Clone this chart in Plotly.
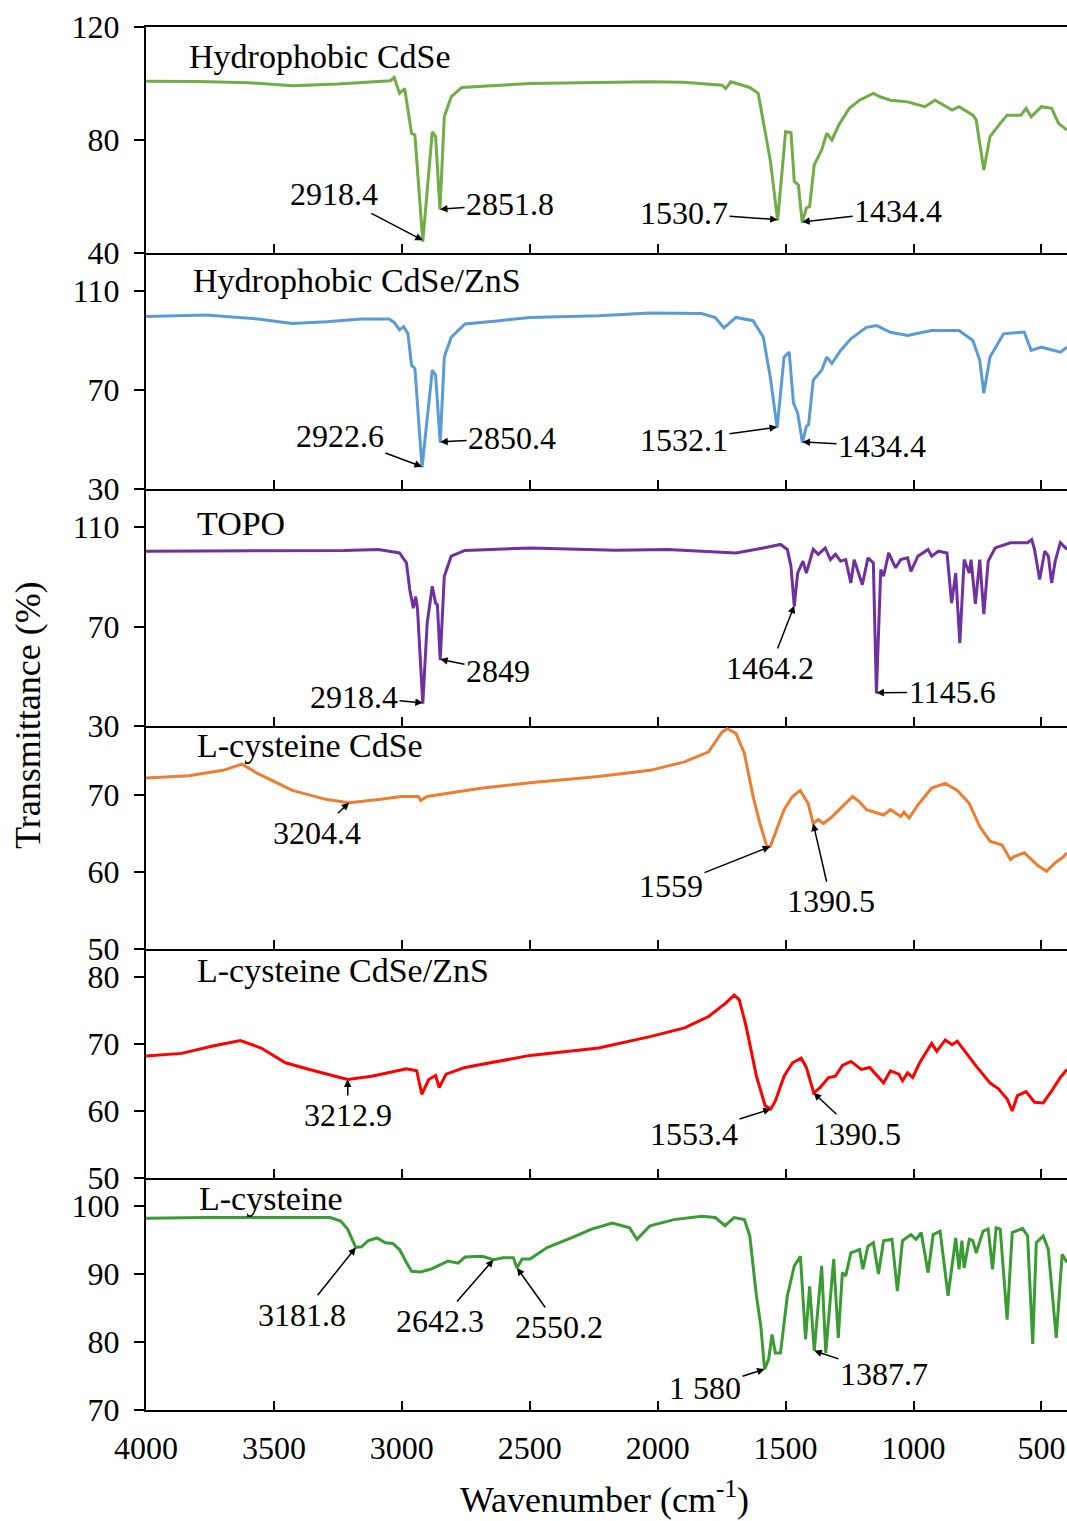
import plotly.graph_objects as go

# ---------------- data ----------------
wn_hcdse = [4000, 3800, 3600, 3428, 3250, 3100, 3045, 3030, 3009, 2989,
            2962, 2949, 2918, 2881, 2868, 2851, 2834, 2807, 2766, 2650,
            2499, 2300, 2030, 1900, 1748, 1734, 1714, 1640, 1607, 1560,
            1531, 1500, 1479, 1466, 1450, 1435, 1419, 1406, 1388, 1359,
            1339, 1319, 1292, 1251, 1211, 1157, 1131, 1090, 1023, 956,
            916, 849, 822, 768, 755, 725, 701, 661, 634, 580,
            560, 540, 500, 460, 433, 400]
t_hcdse = [100.8, 100.7, 100.3, 99.2, 99.8, 100.8, 101.0, 102.1, 96.5, 98.2,
           82.4, 81.8, 44.0, 82.9, 81.2, 55.3, 88.2, 95.3, 98.6, 99.2,
           100.0, 100.3, 100.6, 100.4, 99.4, 98.2, 100.6, 98.6, 96.5, 72.9,
           51.5, 82.9, 82.6, 65.3, 64.1, 50.8, 55.9, 56.5, 71.2, 76.5,
           82.4, 80.0, 85.3, 91.2, 94.1, 96.5, 95.3, 94.1, 93.5, 91.8,
           94.1, 90.6, 91.8, 88.8, 87.1, 69.4, 81.2, 85.9, 88.8, 88.8,
           91.2, 88.2, 91.8, 91.2, 85.9, 83.5]

wn_hcdsezns = [4000, 3766, 3563, 3428, 3293, 3158, 3050, 3030, 3009, 2993,
               2976, 2962, 2949, 2921, 2881, 2868, 2850, 2834, 2807, 2753,
               2618, 2499, 2231, 2030, 1828, 1775, 1741, 1694, 1627, 1587,
               1560, 1533, 1506, 1486, 1469, 1453, 1434, 1419, 1410, 1392,
               1359, 1339, 1319, 1285, 1245, 1184, 1144, 1090, 1023, 970,
               929, 822, 768, 741, 725, 701, 648, 580, 567, 540,
               500, 426, 400]
t_hcdsezns = [99.7, 100.3, 98.7, 96.9, 97.6, 98.7, 98.7, 97.3, 94.3, 95.6,
              92.7, 80.0, 78.7, 38.7, 78.0, 76.0, 48.7, 83.3, 91.3, 96.7,
              98.0, 99.3, 100.0, 101.1, 100.9, 99.3, 95.1, 99.3, 98.0, 91.3,
              75.3, 54.7, 83.3, 85.3, 64.7, 60.7, 48.7, 55.3, 56.0, 74.0,
              78.0, 83.3, 80.7, 86.0, 90.7, 95.3, 96.0, 93.3, 92.0, 93.3,
              94.0, 94.0, 90.0, 82.0, 68.7, 83.3, 92.7, 93.3, 93.3, 86.0,
              87.3, 85.3, 87.3]

wn_topo = [4000, 3631, 3226, 3091, 3009, 2982, 2969, 2955, 2946, 2939,
           2918, 2901, 2881, 2868, 2861, 2850, 2834, 2807, 2753, 2499,
           2164, 1962, 1694, 1587, 1520, 1493, 1479, 1466, 1453, 1432,
           1419, 1392, 1372, 1345, 1325, 1305, 1285, 1265, 1245, 1232,
           1200, 1178, 1157, 1145, 1128, 1117, 1097, 1070, 1050, 1023,
           1010, 983, 943, 929, 902, 869, 851, 835, 819, 802,
           782, 775, 758, 741, 725, 708, 681, 621, 554, 538,
           527, 507, 487, 473, 460, 446, 426, 400]
t_topo = [100.3, 100.3, 100.6, 101.0, 99.6, 95.6, 84.8, 77.4, 82.1, 77.4,
          39.0, 71.3, 86.2, 79.4, 78.8, 56.5, 90.2, 98.3, 100.6, 101.6,
          100.7, 101.0, 99.6, 101.6, 103.0, 101.0, 94.2, 78.1, 91.5, 96.3,
          91.5, 101.0, 99.0, 101.6, 96.9, 99.0, 96.3, 96.9, 87.5, 96.9,
          86.8, 97.6, 95.6, 43.1, 92.9, 90.2, 99.6, 93.6, 96.9, 97.6,
          92.2, 98.3, 101.0, 98.3, 100.3, 99.6, 79.4, 91.5, 63.3, 96.9,
          91.5, 96.9, 79.1, 96.9, 75.0, 96.3, 101.6, 103.7, 103.7, 105.0,
          101.0, 88.9, 100.3, 98.3, 87.5, 96.3, 103.7, 101.0]

wn_lcdse = [4000, 3834, 3699, 3624, 3564, 3428, 3293, 3206, 3091, 3003,
            2935, 2926, 2901, 2685, 2499, 2231, 2030, 1895, 1801, 1748,
            1728, 1694, 1661, 1627, 1600, 1573, 1560, 1540, 1506, 1473,
            1443, 1412, 1392, 1372, 1352, 1318, 1271, 1238, 1211, 1184,
            1117, 1090, 1050, 1037, 1017, 983, 929, 876, 829, 782,
            741, 701, 654, 621, 607, 567, 513, 480, 446, 413,
            400]
t_lcdse = [72.2, 72.5, 73.2, 74.0, 72.8, 70.6, 69.4, 69.0, 69.4, 69.8,
           69.8, 69.3, 69.8, 70.9, 71.6, 72.4, 73.2, 74.3, 75.6, 78.2,
           78.6, 78.0, 75.4, 69.8, 66.3, 63.3, 63.3, 65.0, 68.1, 69.8,
           70.6, 68.9, 66.3, 66.8, 66.3, 67.2, 68.7, 69.8, 69.1, 68.1,
           67.4, 68.1, 67.2, 67.8, 67.0, 68.7, 70.9, 71.5, 70.6, 68.9,
           65.9, 64.0, 63.5, 61.6, 62.0, 62.5, 60.8, 60.1, 61.2, 62.0,
           62.5]

wn_lcdsezns = [4000, 3861, 3739, 3631, 3550, 3455, 3361, 3293, 3212, 3118,
               2982, 2942, 2922, 2895, 2868, 2854, 2827, 2753, 2618, 2499,
               2231, 2030, 1895, 1801, 1734, 1701, 1681, 1654, 1614, 1580,
               1558, 1540, 1506, 1473, 1439, 1419, 1390, 1365, 1332, 1305,
               1278, 1245, 1204, 1171, 1117, 1090, 1057, 1043, 1023, 1003,
               976, 929, 909, 876, 849, 829, 795, 755, 701, 668,
               634, 614, 594, 560, 527, 493, 460, 426, 400]
t_lcdsezns = [68.2, 68.6, 69.7, 70.5, 69.4, 67.2, 66.2, 65.5, 64.7, 65.2,
              66.3, 66.0, 62.5, 64.7, 65.3, 63.5, 65.5, 66.5, 67.4, 68.3,
              69.4, 71.1, 72.4, 74.1, 76.1, 77.3, 76.6, 72.6, 65.2, 60.8,
              60.3, 61.5, 65.2, 67.2, 67.9, 66.5, 62.7, 63.5, 65.0, 65.2,
              66.8, 67.4, 66.2, 66.5, 64.2, 66.0, 65.5, 64.5, 65.7, 65.0,
              67.2, 70.1, 68.9, 70.6, 69.9, 70.4, 68.7, 66.7, 64.2, 63.3,
              61.8, 60.0, 62.3, 62.9, 61.3, 61.2, 63.0, 65.0, 66.2]

wn_lcys = [4000, 3766, 3496, 3280, 3239, 3212, 3192, 3180, 3158, 3131,
           3097, 3064, 3036, 3009, 2982, 2962, 2928, 2888, 2847, 2820,
           2780, 2753, 2685, 2642, 2604, 2564, 2550, 2530, 2499, 2432,
           2338, 2258, 2177, 2110, 2081, 2030, 1936, 1828, 1775, 1737,
           1701, 1661, 1640, 1614, 1597, 1582, 1566, 1553, 1540, 1520,
           1493, 1466, 1442, 1422, 1406, 1388, 1359, 1343, 1312, 1294,
           1278, 1265, 1245, 1211, 1198, 1178, 1157, 1137, 1117, 1084,
           1063, 1043, 1010, 990, 970, 943, 923, 896, 865, 835,
           822, 811, 802, 782, 768, 755, 728, 708, 691, 677,
           661, 634, 614, 574, 554, 534, 520, 493, 473, 442,
           419, 400]
t_lcys = [98.2, 98.3, 98.3, 98.3, 97.8, 96.6, 94.9, 93.9, 94.0, 94.9,
          95.3, 94.6, 94.5, 93.6, 91.7, 90.4, 90.3, 90.7, 91.4, 91.9,
          91.6, 92.5, 92.6, 92.1, 92.4, 92.4, 90.9, 92.2, 92.2, 93.9,
          95.3, 96.6, 97.5, 96.8, 95.1, 97.1, 98.0, 98.5, 98.3, 97.1,
          98.3, 98.0, 95.6, 86.8, 82.4, 76.0, 77.5, 81.1, 78.4, 78.4,
          86.8, 91.2, 92.6, 80.4, 88.2, 78.7, 91.2, 78.4, 92.2, 80.6,
          90.2, 89.7, 93.1, 93.6, 90.7, 94.1, 94.6, 90.0, 94.9, 95.1,
          87.5, 94.9, 95.8, 95.1, 96.1, 90.2, 95.8, 96.3, 86.8, 95.3,
          90.7, 94.9, 90.9, 95.1, 94.9, 93.1, 96.3, 96.6, 90.7, 96.8,
          96.6, 83.3, 96.1, 96.7, 95.6, 79.7, 94.6, 95.6, 93.6, 80.6,
          92.9, 91.7]

panel_names = ["Hydrophobic CdSe", "Hydrophobic CdSe/ZnS", "TOPO",
               "L-cysteine CdSe", "L-cysteine CdSe/ZnS", "L-cysteine"]
x_tickvals = [4000, 3500, 3000, 2500, 2000, 1500, 1000, 500]
y_tickvals = [[40, 80, 120], [30, 70, 110], [30, 70, 110],
              [50, 60, 70], [50, 60, 70, 80], [70, 80, 90, 100]]

# peak labels: (panel, label, peak wavenumber, peak T, label wavenumber, label T)
peak_labels = [
    (1, "2918.4", 2918, 44.5, 3265, 60.9),
    (1, "2851.8", 2851, 55.5, 2577, 57.3),
    (1, "1530.7", 1531, 51.8, 1897, 54.2),
    (1, "1434.4", 1435, 51.0, 1060, 54.9),
    (2, "2922.6", 2921, 39.0, 3242, 51.4),
    (2, "2850.4", 2850, 49.0, 2569, 50.6),
    (2, "1532.1", 1533, 55.0, 1897, 49.8),
    (2, "1434.4", 1434, 49.0, 1123, 47.4),
    (3, "2918.4", 2918, 39.3, 3187, 41.7),
    (3, "2849", 2850, 56.8, 2624, 52.1),
    (3, "1464.2", 1466, 78.4, 1561, 53.3),
    (3, "1145.6", 1145, 43.4, 849, 43.7),
    (4, "3204.4", 3206, 69.0, 3332, 65.1),
    (4, "1559", 1560, 63.3, 1948, 58.2),
    (4, "1390.5", 1392, 66.3, 1322, 56.2),
    (5, "3212.9", 3212, 64.7, 3210, 59.4),
    (5, "1553.4", 1558, 60.3, 1858, 56.6),
    (5, "1390.5", 1390, 62.7, 1220, 56.6),
    (6, "3181.8", 3180, 93.9, 3390, 84.0),
    (6, "2642.3", 2642, 92.1, 2851, 83.1),
    (6, "2550.2", 2550, 90.9, 2385, 82.2),
    (6, "1 580", 1582, 76.0, 1815, 73.2),
    (6, "1387.7", 1388, 78.7, 1115, 75.3),
]

# ---------------- styling / layout ----------------
FONT = "Liberation Serif, Times New Roman, serif"
colors = ["#70AD47", "#5B9BD5", "#7030A0", "#ED7D31", "#FF0000", "#3A9B35"]
y_ranges = [[40, 120], [30, 125.35], [30, 125.3], [50, 78.96], [50, 84.18], [70, 104.12]]
# panel pixel edges (top, bottom) in the 1521 px tall figure; plot area 27..1410
edges = [(27, 253), (253, 489), (489, 726), (726, 949), (949, 1178), (1178, 1410)]
PT, PB = 27, 1410
H = PB - PT
domains = [[(PB - b) / H, (PB - t) / H] for t, b in edges]
title_pos = [(187, 57), (191, 280), (195, 523), (195, 746), (195, 970), (197, 1198)]
PL, PR = 146, 1067

series = [(wn_hcdse, t_hcdse), (wn_hcdsezns, t_hcdsezns), (wn_topo, t_topo),
          (wn_lcdse, t_lcdse), (wn_lcdsezns, t_lcdsezns), (wn_lcys, t_lcys)]

fig = go.Figure()
layout = dict(
    width=1067, height=1521,
    margin=dict(l=PL, r=1067 - PR, t=PT, b=1521 - PB),
    paper_bgcolor="white", plot_bgcolor="white",
    showlegend=False,
    font=dict(family=FONT, color="black", size=32),
)
annotations = []
for i in range(6):
    k = i + 1
    xs, ys = series[i]
    fig.add_trace(go.Scatter(x=xs, y=ys, mode="lines",
                             line=dict(color=colors[i], width=3),
                             xaxis=f"x{k}", yaxis=f"y{k}", name=panel_names[i]))
    layout[f"xaxis{k}"] = dict(
        domain=[0, 1], range=[4000, 400], anchor=f"y{k}",
        showline=True, linecolor="black", linewidth=2,
        ticks="inside", ticklen=9, tickwidth=2, tickcolor="black",
        tickvals=x_tickvals, showticklabels=(k == 6),
        tickfont=dict(family=FONT, size=32, color="black"),
        ticklabelstandoff=9,
        showgrid=False, zeroline=False, mirror=(k == 1),
    )
    layout[f"yaxis{k}"] = dict(
        domain=domains[i], range=y_ranges[i], anchor=f"x{k}",
        showline=True, linecolor="black", linewidth=2,
        ticks="outside", ticklen=10, tickwidth=2, tickcolor="black",
        tickvals=y_tickvals[i],
        tickfont=dict(family=FONT, size=32, color="black"),
        ticklabelstandoff=8,
        showgrid=False, zeroline=False,
    )
    tx, ty = title_pos[i]
    annotations.append(dict(
        text=panel_names[i], xref="paper", yref="paper",
        x=(tx - PL) / (PR - PL), y=(PB - ty) / H,
        xanchor="left", yanchor="middle", showarrow=False,
        font=dict(family=FONT, size=34, color="black")))

for (p, lab, hx, hy, txx, tyy) in peak_labels:
    annotations.append(dict(
        text=lab, x=hx, y=hy, xref=f"x{p}", yref=f"y{p}",
        ax=txx, ay=tyy, axref=f"x{p}", ayref=f"y{p}",
        showarrow=True, arrowhead=2, arrowsize=1, arrowwidth=1.5,
        arrowcolor="black", standoff=0,
        font=dict(family=FONT, size=32, color="black")))

annotations.append(dict(
    text="Wavenumber (cm<sup>-1</sup>)", xref="paper", yref="paper",
    x=(604 - PL) / (PR - PL), y=(PB - 1497) / H, xanchor="center", yanchor="middle",
    showarrow=False, font=dict(family=FONT, size=36, color="black")))
annotations.append(dict(
    text="Transmittance (%)", xref="paper", yref="paper",
    x=(28 - PL) / (PR - PL), y=(PB - 715) / H, xanchor="center", yanchor="middle",
    textangle=-90, showarrow=False, font=dict(family=FONT, size=36, color="black")))

layout["annotations"] = annotations
fig.update_layout(**layout)
fig.write_html("out.html")
